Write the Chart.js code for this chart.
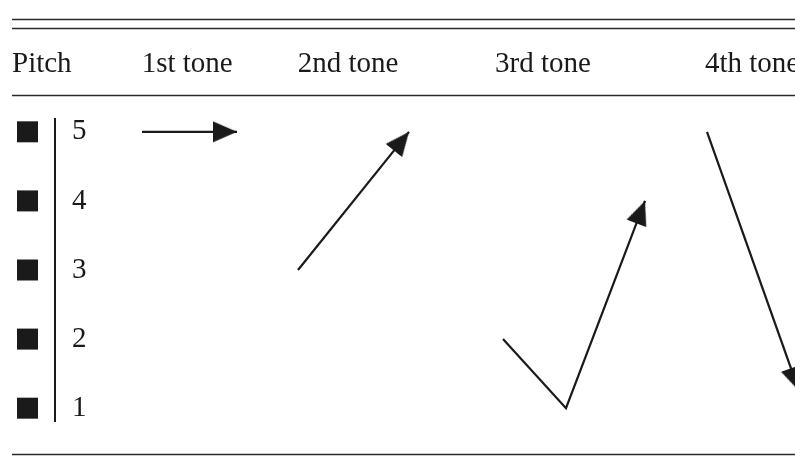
<!DOCTYPE html>
<html>
<head>
<meta charset="utf-8">
<title>Mandarin tones</title>
<script src="https://cdn.jsdelivr.net/npm/chart.js@4.4.0/dist/chart.umd.min.js"></script>
<style>
  html, body { margin: 0; padding: 0; background: #fff; }
  #wrap { position: relative; width: 795px; height: 457px; }
</style>
</head>
<body>
<div id="wrap"><canvas id="tones"></canvas></div>
<script>
// table header
const headers = ['Pitch', '1st tone', '2nd tone', '3rd tone', '4th tone'];

// pitch levels on the vertical scale
const pitchLevels = [1, 2, 3, 4, 5];

// tone contours: time (arbitrary units) and pitch level of each point
const tone1Time  = [0.87, 1.82];
const tone1Pitch = [5, 5];
const tone2Time  = [2.43, 3.54];
const tone2Pitch = [3, 5];
const tone3Time  = [4.48, 5.11, 5.90];
const tone3Pitch = [2, 1, 4];
const tone4Time  = [6.52, 7.44];
const tone4Pitch = [5, 1.25];

const INK = '#1a1a1a';
const FONT = '"Liberation Serif", "Times New Roman", serif';

// arrow head drawn pointing up, tip at the centre of the image
function makeHead(len, wid) {
  const c = document.createElement('canvas');
  c.width = 56;
  c.height = 56;
  const g = c.getContext('2d');
  g.fillStyle = INK;
  g.beginPath();
  g.moveTo(28, 28);
  g.lineTo(28 + wid / 2, 28 + len);
  g.lineTo(28 - wid / 2, 28 + len);
  g.closePath();
  g.fill();
  return c;
}
const head = makeHead(24, 21);

function headAngle(ctx) {
  const i = ctx.dataIndex;
  if (i === 0) return 0;
  const d = ctx.dataset.data;
  const sx = ctx.chart.scales.x;
  const sy = ctx.chart.scales.y;
  const dx = sx.getPixelForValue(d[i].x) - sx.getPixelForValue(d[i - 1].x);
  const dy = sy.getPixelForValue(d[i].y) - sy.getPixelForValue(d[i - 1].y);
  return Math.atan2(dx, -dy) * 180 / Math.PI;
}

function toneSet(label, times, pitches) {
  return {
    label,
    data: times.map((t, i) => ({ x: t, y: pitches[i] })),
    showLine: true,
    borderColor: INK,
    borderWidth: 2.2,
    borderJoinStyle: 'miter',
    tension: 0,
    clip: false,
    pointStyle: head,
    pointRadius: ctx => (ctx.dataIndex === times.length - 1 ? 8 : 0),
    pointBorderWidth: 0,
    pointRotation: headAngle,
  };
}

// no extra room around the axes: the layout padding decides the plot box
function squeeze(s, side) {
  s[side] = 0;
  s.paddingTop = 0;
  s.paddingBottom = 0;
  s.paddingLeft = 0;
  s.paddingRight = 0;
}

// table rules and header labels
const tablePlugin = {
  id: 'table',
  afterDraw(chart, args, opts) {
    const { ctx, width } = chart;
    const sx = chart.scales.x;
    ctx.save();
    ctx.strokeStyle = '#2a2a2a';
    ctx.lineWidth = 1.6;
    opts.rules.forEach(y => {
      ctx.beginPath();
      ctx.moveTo(opts.left, y);
      ctx.lineTo(width, y);
      ctx.stroke();
    });
    ctx.fillStyle = INK;
    ctx.font = '29px ' + FONT;
    ctx.textAlign = 'left';
    ctx.textBaseline = 'alphabetic';
    headers.forEach((h, i) => {
      ctx.fillText(h, sx.getPixelForValue(opts.headerX[i]), opts.headerY);
    });
    ctx.restore();
  },
};

new Chart(document.getElementById('tones'), {
  type: 'scatter',
  data: {
    datasets: [
      {
        label: 'levels',
        data: pitchLevels.map(p => ({ x: -0.275, y: p })),
        pointStyle: 'rect',
        pointRadius: 14.85,
        pointBorderWidth: 0,
        backgroundColor: INK,
        clip: false,
      },
      toneSet('1st tone', tone1Time, tone1Pitch),
      toneSet('2nd tone', tone2Time, tone2Pitch),
      toneSet('3rd tone', tone3Time, tone3Pitch),
      toneSet('4th tone', tone4Time, tone4Pitch),
    ],
  },
  options: {
    responsive: true,
    maintainAspectRatio: false,
    animation: false,
    events: [],
    layout: {
      autoPadding: false,
      padding: { left: 12, right: 0, top: 118, bottom: 35 },
    },
    plugins: {
      legend: { display: false },
      tooltip: { enabled: false },
      table: {
        left: 12,
        rules: [19.5, 28.5, 95.5, 454.5],
        headerX: [-0.43, 0.867, 2.427, 4.40, 6.50],
        headerY: 72,
      },
    },
    scales: {
      x: {
        type: 'linear',
        min: -0.43,
        max: 7.40,
        afterBuildTicks: s => { s.ticks = [{ value: 0 }]; },
        afterFit: s => squeeze(s, 'height'),
        ticks: { display: false },
        grid: { color: INK, lineWidth: 2, drawTicks: false },
        border: { display: false },
      },
      y: {
        type: 'linear',
        min: 0.8,
        max: 5.2,
        afterBuildTicks: s => { s.ticks = pitchLevels.map(v => ({ value: v })); },
        afterFit: s => squeeze(s, 'width'),
        ticks: {
          mirror: true,
          padding: 60,
          color: INK,
          font: { family: FONT, size: 29 },
        },
        grid: { display: false },
        border: { display: false },
      },
    },
  },
  plugins: [tablePlugin],
});
</script>
</body>
</html>
